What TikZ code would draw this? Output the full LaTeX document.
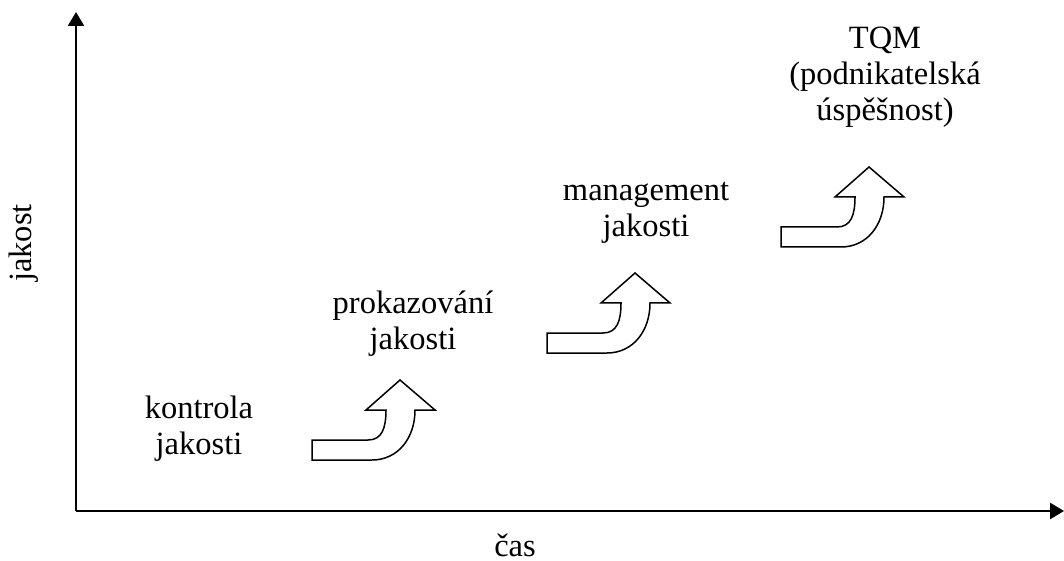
\documentclass[tikz,border=0pt]{standalone}
\usepackage{fontspec}
\setmainfont{Liberation Serif}
\usetikzlibrary{positioning,arrows.meta}

\tikzset{
  axis/.style={line width=1pt,-{Triangle[width=6.4pt,length=5.6pt]}},
  label/.style={align=center,font=\fontsize{13}{14.4}\selectfont},
  bentarrow/.pic={
    \draw[line width=0.6pt,line join=miter]
      (0,0) -- (0,20) -- (56,20)
      .. controls (70,20) and (74,32) .. (74,50)
      -- (54,50) -- (88,80) -- (123,50) -- (103,50)
      .. controls (103,22) and (86,0) .. (60,0) -- cycle;
  }
}

\begin{document}
\begin{tikzpicture}[x=0.4pt,y=0.4pt]
    \useasboundingbox (0,0) rectangle (1064,560);
    % axes
    \coordinate (O) at (76,49);
    \coordinate (Ytip) at (76,548);
    \coordinate (Xtip) at (1064,49);
    \draw[axis] (O) -- (Ytip);
    \draw[axis] (O) -- (Xtip);
    \node[label,rotate=90] (jakost) at (24,317) {jakost};
    \node[label] (cas) at (515,15) {čas};
    % stages
    \node[label] (kontrola) at (199,131) {kontrola\\jakosti};
    \node[label] (prokaz) at (413,236) {prokazování\\jakosti};
    \node[label] (mgmt) at (646,347) {management\\jakosti};
    \node[label] (tqm) at (885,483) {TQM\\(podnikatelská\\úspěšnost)};
    % arrows between stages
    \pic at (312,100) {bentarrow};
    \pic at (547,207) {bentarrow};
    \pic at (781,313) {bentarrow};
  \end{tikzpicture}
\end{document}
